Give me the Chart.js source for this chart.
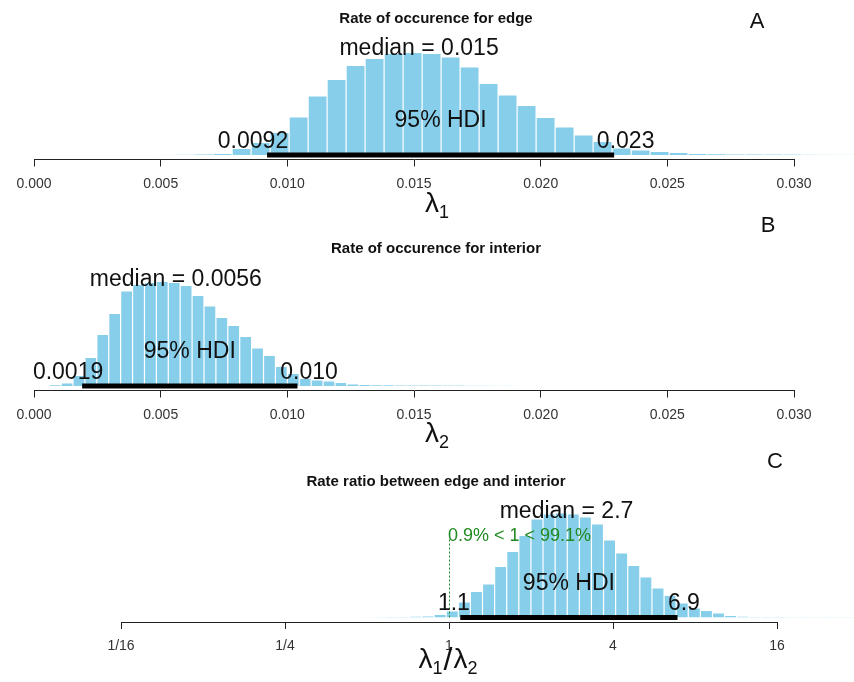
<!DOCTYPE html>
<html><head><meta charset="utf-8">
<script src="https://cdn.jsdelivr.net/npm/chart.js@4"></script>
<style>
html,body{margin:0;padding:0;background:#fff;}
#wrap{position:relative;width:854px;height:682px;overflow:hidden;background:#fff;}
canvas{position:absolute;left:0;}
</style>
</head><body><div id="wrap">
<canvas id="cA" width="854" height="228" style="top:0px"></canvas>
<canvas id="cB" width="854" height="250" style="top:205px"></canvas>
<canvas id="cC" width="854" height="242" style="top:440px"></canvas>
</div>
<script>
// ---------- data ----------
// Panel A: posterior of lambda1 (edge); histogram bins (start, width) and bar heights (relative density)
const edgeBinStart = 0.00482;
const edgeBinWidth = 0.00075;
const edgeHeights = [0.3,0.7,1,2,7,13,23,38.5,59.5,76,90,97,102,103,102,98.5,88.5,72,60.5,50,38,28.5,20.5,14,7.5,5.5,4,3,2,1.5,1.2,1.0,0.9,0.8,0.7,0.6,0.5];
const edgeMedian = 0.0152, edgeMedianLabel = "0.015";
const edgeHDI = [0.0092, 0.0229], edgeHDILabels = ["0.0092", "0.023"];

// Panel B: posterior of lambda2 (interior)
const interiorBinStart = 0.00060;
const interiorBinWidth = 0.00047;
const interiorHeights = [1.5,3.5,11,29,52,73,95.5,102,104,105,104,101,91,80.5,69,61,50,38.5,31,20,13,8,6.5,5.5,4,2.5,2,1.6,1.4,1.2,1.1,1.0,0.9,0.8,0.8,0.7,0.7,0.6,0.6];
const interiorMedian = 0.0056, interiorMedianLabel = "0.0056";
const interiorHDI = [0.0019, 0.0104], interiorHDILabels = ["0.0019", "0.010"];

// Panel C: rate ratio lambda1/lambda2, histogram on log2 scale
const ratioBinStartLog2 = -1.0674;
const ratioBinWidthLog2 = 0.1476;
const ratioHeights = [0.3,0.5,0.8,1.2,1.5,2,3.5,7,16,26.5,34,51.5,66.5,82.5,99,104,105,104,101,94,78,65,52.5,41,30,22.5,15,10,7.5,5,2.5,1.5,1.2,1,0.8,0.7,0.6,0.5,0.5,0.4,0.4];
const ratioMedian = 2.7, ratioMedianLabel = "2.7";
const ratioHDI = [1.1, 6.9], ratioHDILabels = ["1.1", "6.9"];
const ratioCompVal = 1, pctBelow = "0.9%", pctAbove = "99.1%";

// axis ticks
const rateTickValues = [0, 0.005, 0.010, 0.015, 0.020, 0.025, 0.030];
const rateTickLabels = ["0.000", "0.005", "0.010", "0.015", "0.020", "0.025", "0.030"];
const ratioTickValues = [-4, -2, 0, 2, 4];           // log2 of the ratio
const ratioTickLabels = ["1/16", "1/4", "1", "4", "16"];

const titles = ["Rate of occurence for edge", "Rate of occurence for interior", "Rate ratio between edge and interior"];
const panelLetters = ["A", "B", "C"];

// ---------- drawing ----------
const FONT = "'Liberation Sans', Arial, Helvetica, sans-serif";
const BAR = "#87CEEB";
const INK = "#111111";

function binPoints(start, width, heights) {
  return heights.map((h, i) => ({ x: start + (i + 0.5) * width, y: h }));
}

function drawComposite(ctx, cx, baseY, parts) {
  let total = 0;
  parts.forEach(p => { ctx.font = p.size + "px " + FONT; p.w = ctx.measureText(p.t).width; total += p.w + (p.gap || 0); });
  let x = cx - total / 2;
  ctx.textAlign = "left"; ctx.textBaseline = "alphabetic"; ctx.fillStyle = INK;
  parts.forEach(p => { ctx.font = p.size + "px " + FONT; ctx.fillText(p.t, x, baseY + (p.dy || 0)); x += p.w + (p.gap || 0); });
}

function makePanel(cfg) {
  const ann = {
    id: "ann" + cfg.id,
    afterDatasetsDraw(chart) {
      const ctx = chart.ctx, xs = chart.scales.x, ys = chart.scales.y;
      const y0 = ys.getPixelForValue(0);
      ctx.save();
      // HDI bar
      ctx.strokeStyle = "#000"; ctx.lineWidth = 5; ctx.lineCap = "butt";
      ctx.beginPath();
      ctx.moveTo(xs.getPixelForValue(cfg.hdi[0]), y0);
      ctx.lineTo(xs.getPixelForValue(cfg.hdi[1]), y0);
      ctx.stroke();
      // comparison value line (panel C)
      if (cfg.comp !== undefined) {
        const cxp = xs.getPixelForValue(cfg.comp);
        ctx.strokeStyle = "#1f8a1f"; ctx.lineWidth = 1; ctx.setLineDash([2, 2]);
        ctx.beginPath(); ctx.moveTo(cxp + 0.5, y0); ctx.lineTo(cxp + 0.5, ys.getPixelForValue(86)); ctx.stroke();
        ctx.setLineDash([]);
        ctx.font = "18px " + FONT; ctx.fillStyle = "#1f8a1f"; ctx.textAlign = "left"; ctx.textBaseline = "alphabetic";
        ctx.fillText(cfg.compText, cxp - 1, ys.getPixelForValue(77));
      }
      ctx.fillStyle = INK; ctx.textBaseline = "alphabetic";
      ctx.font = "23px " + FONT;
      // median
      ctx.textAlign = "center";
      ctx.fillText("median = " + cfg.medianLabel, xs.getPixelForValue(cfg.median), ys.getPixelForValue(100));
      // 95% HDI
      const mid = (cfg.hdi[0] + cfg.hdi[1]) / 2;
      ctx.fillText("95% HDI", xs.getPixelForValue(mid), ys.getPixelForValue(28));
      // HDI limits
      ctx.textAlign = "left";
      let w = ctx.measureText(cfg.hdiLabels[0]).width;
      ctx.fillText(cfg.hdiLabels[0], xs.getPixelForValue(cfg.hdi[0]) - 0.7 * w, ys.getPixelForValue(7.5));
      w = ctx.measureText(cfg.hdiLabels[1]).width;
      ctx.fillText(cfg.hdiLabels[1], xs.getPixelForValue(cfg.hdi[1]) - 0.3 * w, ys.getPixelForValue(7.5));
      ctx.restore();
    },
    afterDraw(chart) {
      const ctx = chart.ctx;
      ctx.save();
      ctx.fillStyle = INK; ctx.textAlign = "center"; ctx.textBaseline = "alphabetic";
      ctx.font = "bold 15px " + FONT;
      ctx.fillText(cfg.title, 436, cfg.titleY);
      ctx.font = "22px " + FONT;
      ctx.textBaseline = "middle";
      ctx.fillText(cfg.letter, cfg.letterX, cfg.letterY);
      drawComposite(ctx, cfg.xlabX, cfg.xlabY, cfg.xlabParts);
      ctx.restore();
    }
  };

  return new Chart(document.getElementById(cfg.id), {
    type: "bar",
    data: { datasets: [{
      data: cfg.points,
      backgroundColor: BAR,
      borderColor: "#ffffff",
      borderWidth: { left: 0.6, right: 0.6, top: 1, bottom: 0 },
      borderSkipped: "start",
      inflateAmount: 0,
      categoryPercentage: 1.0,
      barPercentage: 1.0,
      clip: false
    }]},
    options: {
      responsive: false, animation: false, devicePixelRatio: 1,
      layout: { padding: { left: cfg.padL, right: cfg.padR, top: cfg.padT, bottom: cfg.padB } },
      plugins: { legend: { display: false }, tooltip: { enabled: false }, title: { display: false } },
      scales: {
        x: {
          type: "linear", min: cfg.xmin, max: cfg.xmax, offset: false,
          afterFit: s => { s.height = 40; },
          afterBuildTicks: s => { s.ticks = cfg.tickValues.map(v => ({ value: v })); },
          border: { display: true, color: "#222", width: 1 },
          grid: { display: true, offset: false, drawOnChartArea: false, drawTicks: true, tickLength: 7, tickColor: "#222", color: "#222" },
          ticks: {
            autoSkip: false, maxRotation: 0, padding: 9, color: "#333",
            font: { family: FONT, size: 14 },
            callback: v => { const i = cfg.tickValues.findIndex(t => Math.abs(t - v) < 1e-9); return i >= 0 ? cfg.tickLabels[i] : ""; }
          }
        },
        y: { display: false, min: -4.5, max: 110 }
      }
    },
    plugins: [ann]
  });
}

makePanel({
  id: "cA", points: binPoints(edgeBinStart, edgeBinWidth, edgeHeights),
  xmin: 0, xmax: 0.03, tickValues: rateTickValues, tickLabels: rateTickLabels,
  padL: 34, padR: 60, padT: 45, padB: 28.5,
  median: edgeMedian, medianLabel: edgeMedianLabel, hdi: edgeHDI, hdiLabels: edgeHDILabels,
  title: titles[0], titleY: 22.5, letter: panelLetters[0], letterX: 757, letterY: 22,
  xlabX: 437, xlabY: 212, xlabParts: [{ t: "\u03BB", size: 28 }, { t: "1", size: 18, dy: 6 }]
});
makePanel({
  id: "cB", points: binPoints(interiorBinStart, interiorBinWidth, interiorHeights),
  xmin: 0, xmax: 0.03, tickValues: rateTickValues, tickLabels: rateTickLabels,
  padL: 34, padR: 60, padT: 71, padB: 24.5,
  median: interiorMedian, medianLabel: interiorMedianLabel, hdi: interiorHDI, hdiLabels: interiorHDILabels,
  title: titles[1], titleY: 47.5, letter: panelLetters[1], letterX: 768, letterY: 21,
  xlabX: 437, xlabY: 237, xlabParts: [{ t: "\u03BB", size: 28 }, { t: "2", size: 18, dy: 6 }]
});
makePanel({
  id: "cC", points: binPoints(ratioBinStartLog2, ratioBinWidthLog2, ratioHeights),
  xmin: -4, xmax: 4, tickValues: ratioTickValues, tickLabels: ratioTickLabels,
  padL: 121, padR: 77, padT: 67.5, padB: 20,
  median: Math.log2(ratioMedian), medianLabel: ratioMedianLabel,
  hdi: ratioHDI.map(Math.log2), hdiLabels: ratioHDILabels,
  comp: Math.log2(ratioCompVal), compText: pctBelow + " < " + ratioCompVal + " < " + pctAbove,
  title: titles[2], titleY: 45.5, letter: panelLetters[2], letterX: 775, letterY: 22,
  xlabX: 448, xlabY: 228, xlabParts: [{ t: "\u03BB", size: 28 }, { t: "1", size: 18, dy: 6, gap: 1 }, { t: "/", size: 32, dy: 2, gap: 1 }, { t: "\u03BB", size: 28 }, { t: "2", size: 18, dy: 6 }]
});
</script>
</body></html>
